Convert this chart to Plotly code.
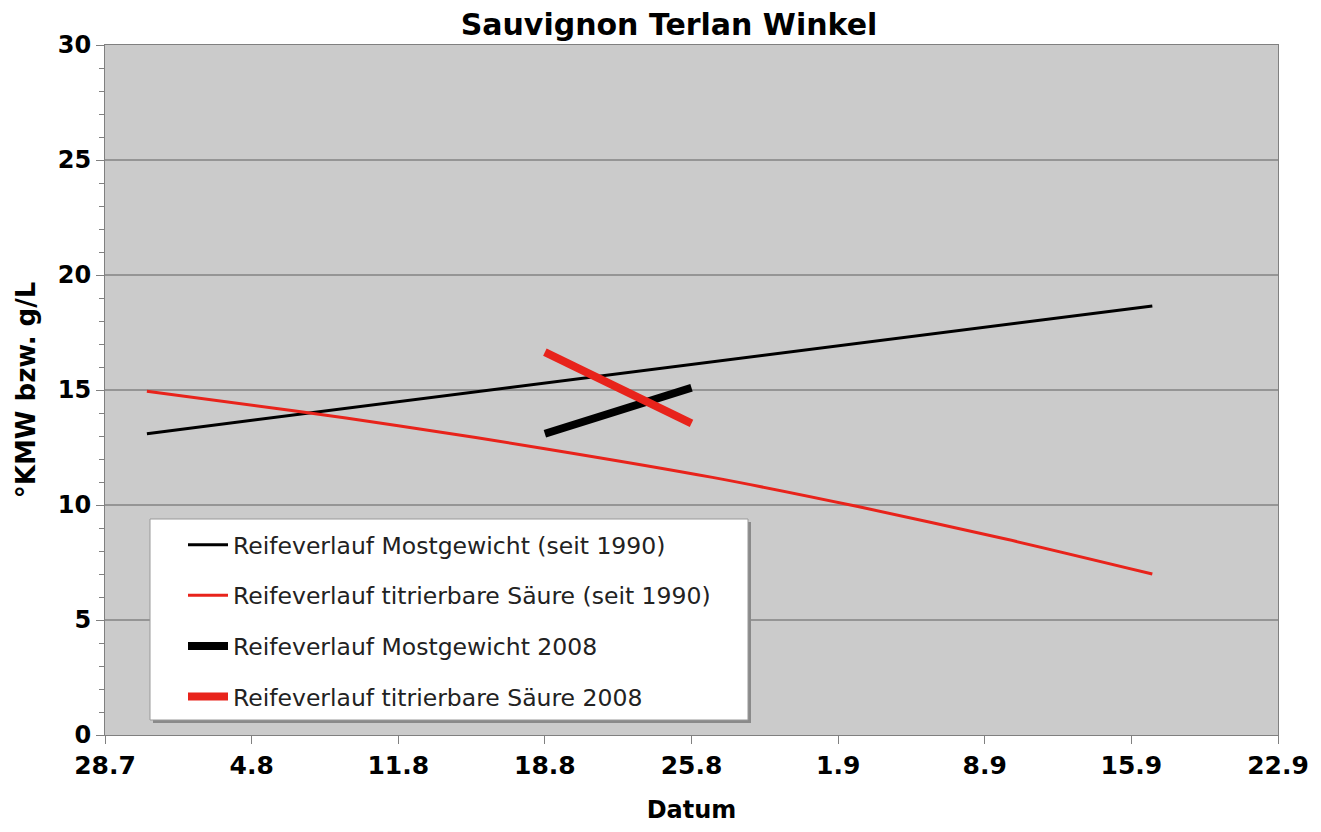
import plotly.graph_objects as go

# Data
names = [
    "Reifeverlauf Mostgewicht (seit 1990)",
    "Reifeverlauf titrierbare Säure (seit 1990)",
    "Reifeverlauf Mostgewicht 2008",
    "Reifeverlauf titrierbare Säure 2008",
]
dates_most_longterm = ["2008-07-30", "2008-09-16"]
most_longterm = [13.1, 18.65]
dates_saeure_longterm = ["2008-07-30", "2008-08-06", "2008-08-11", "2008-08-18",
                         "2008-08-26", "2008-09-02", "2008-09-09", "2008-09-16"]
saeure_longterm = [14.95, 14.1, 13.45, 12.45, 11.2, 9.92, 8.52, 7.0]
dates_2008 = ["2008-08-18", "2008-08-25"]
most_2008 = [13.1, 15.1]
saeure_2008 = [16.65, 13.55]

colors = ["#000000", "#e8231b", "#000000", "#e8231b"]
widths = [3, 3, 8, 8]
xs = [dates_most_longterm, dates_saeure_longterm, dates_2008, dates_2008]
ys = [most_longterm, saeure_longterm, most_2008, saeure_2008]

fig = go.Figure()
for i in range(4):
    fig.add_trace(go.Scatter(
        x=xs[i], y=ys[i], mode="lines", name=names[i],
        line=dict(color=colors[i], width=widths[i], shape="spline", smoothing=0.8),
        legendgroup=f"g{i}",
    ))

font_family = "DejaVu Sans"
# the page places the figure 8px from the top-left corner
OFF = 8
W, H = 1321 - OFF, 832 - OFF
L, R, T, B = 105 - OFF, 43, 45 - OFF, 97
PW, PH = W - L - R, H - T - B


def px_x(x):  # page pixel -> paper
    return (x - OFF - L) / PW


def px_y(y):
    return (H - B - (y - OFF)) / PH


fig.update_layout(
    width=W, height=H,
    margin=dict(l=L, r=R, t=T, b=B),
    paper_bgcolor="white",
    plot_bgcolor="#cbcbcb",
    title=dict(text="<b>Sauvignon Terlan Winkel</b>", x=(669 - OFF) / W, xanchor="center",
               y=0.98, yanchor="middle",
               font=dict(family=font_family, size=30, color="black")),
    showlegend=True,
    legend=dict(x=px_x(183), y=px_y(523), xanchor="left", yanchor="top",
                bgcolor="rgba(0,0,0,0)", borderwidth=0,
                font=dict(family=font_family, size=23.5, color="#222222"),
                tracegroupgap=17, itemwidth=40),
    shapes=[
        dict(type="rect", xref="paper", yref="paper",
             x0=px_x(153), x1=px_x(751), y0=px_y(723), y1=px_y(522),
             fillcolor="#8a8a8a", line=dict(width=0), layer="above"),
        dict(type="rect", xref="paper", yref="paper",
             x0=px_x(150), x1=px_x(748), y0=px_y(720), y1=px_y(519),
             fillcolor="white", line=dict(color="#999999", width=1),
             layer="above"),
    ],
)
fig.update_xaxes(
    type="date",
    range=["2008-07-28", "2008-09-22"],
    dtick=7 * 24 * 3600 * 1000,
    tick0="2008-07-28",
    tickformat="%-d.%-m",
    ticks="outside", ticklen=8, tickcolor="#808080",
    showgrid=False, automargin=False,
    showline=True, linecolor="#808080", linewidth=1, mirror=True,
    tickfont=dict(family=font_family, size=25, color="black", weight="bold"),
    title=dict(text="<b>Datum</b>", font=dict(family=font_family, size=24, color="black"),
               standoff=22),
)
fig.update_yaxes(
    range=[0, 30], dtick=5,
    ticks="outside", ticklen=8, tickcolor="#808080",
    minor=dict(dtick=1, ticks="outside", ticklen=5, tickcolor="#808080", showgrid=False),
    showgrid=True, gridcolor="#959595", gridwidth=2,
    zeroline=False, automargin=False,
    showline=True, linecolor="#808080", linewidth=1, mirror=True,
    tickfont=dict(family=font_family, size=24, color="black", weight="bold"),
    title=dict(text="<b>°KMW bzw. g/L</b>", font=dict(family=font_family, size=26, color="black"),
               standoff=14),
)

fig.write_html("out.html")
